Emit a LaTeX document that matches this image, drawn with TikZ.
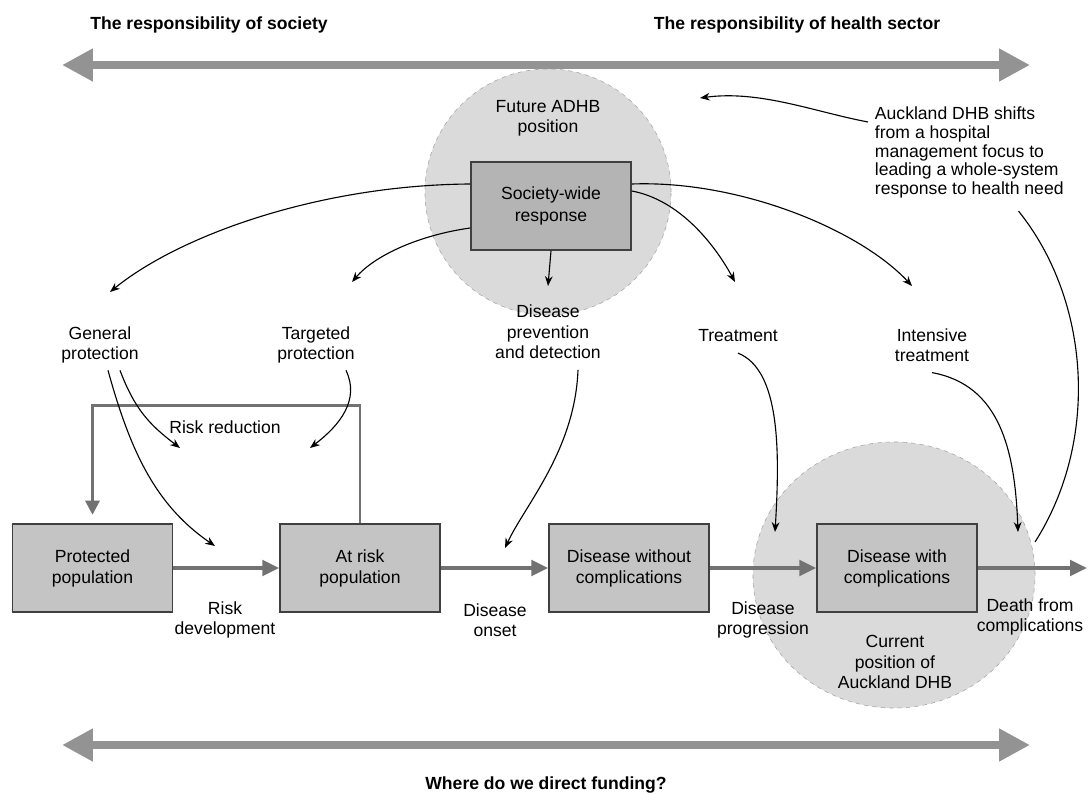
\documentclass[tikz,border=0pt]{standalone}
\usepackage{fontspec}
\setmainfont{Liberation Sans}
\usetikzlibrary{arrows.meta,shapes.geometric}

\definecolor{zonegray}{HTML}{DADADA}
\definecolor{boxgray}{HTML}{C4C4C4}
\definecolor{darkbox}{HTML}{B4B4B4}
\definecolor{flowgray}{HTML}{727272}

\tikzset{
    zone/.style={circle, fill=zonegray, draw=gray!70, dashed, inner sep=0pt},
    stagebox/.style={rectangle, fill=boxgray, draw=black!75, line width=1.1pt,
        minimum width=4cm, minimum height=2.2cm, align=center,
        font=\fontsize{12.5}{15}\selectfont},
    lbl/.style={align=center, font=\fontsize{12.5}{14.5}\selectfont},
    title/.style={font=\fontsize{12.5}{15}\selectfont\bfseries},
    bigarrow/.style={draw=gray!85, line width=5.5pt,
        {Triangle[length=22pt,width=22pt]}-{Triangle[length=22pt,width=22pt]}},
    flow/.style={draw=flowgray, line width=2.5pt, -{Triangle[length=12pt,width=11pt]}},
    link/.style={draw=black, line width=0.8pt, -{Stealth[length=7pt,width=5.5pt]}},
    plainlink/.style={draw=black, line width=0.8pt}
}

\begin{document}
\begin{tikzpicture}[x=0.025cm, y=-0.025cm]
    \useasboundingbox (0,0) rectangle (1092,794);

    % focus zones
    \node (future) [zone, minimum size=6.15cm] at (548,192) {};
    \node (current) [zone, ellipse, minimum width=7.05cm, minimum height=6.65cm] at (894,575) {};

    % funding axis
    \node (society) [title] at (209,25) {The responsibility of society};
    \node (health) [title] at (797,25) {The responsibility of health sector};
    \coordinate (tl) at (62,65);
    \coordinate (tr) at (1030,65);
    \coordinate (bl) at (62,745);
    \coordinate (br) at (1030,745);
    \draw[bigarrow] (tl) -- (tr);
    \draw[bigarrow] (bl) -- (br);
    \node (funding) [title] at (546,785) {Where do we direct funding?};

    % response
    \node (futurelbl) [lbl] at (548,118) {Future ADHB\\position};
    \node (response) [stagebox, fill=darkbox] at (551,206) {Society-wide\\response};
    \node (shift) [lbl, align=left, anchor=north west, font=\fontsize{12.5}{13.3}\selectfont]
        at (870,102) {Auckland DHB shifts\\from a hospital\\management focus to\\leading a whole-system\\response to health need};

    % interventions
    \node (general) [lbl] at (100,345) {General\\protection};
    \node (targeted) [lbl] at (316,345) {Targeted\\protection};
    \node (prevention) [lbl] at (548,332) {Disease\\prevention\\and detection};
    \node (treatment) [lbl] at (738,336) {Treatment};
    \node (intensive) [lbl] at (932,345) {Intensive\\treatment};

    % disease stages
    \node (protected) [stagebox] at (92.5,568) {Protected\\population};
    \node (atrisk) [stagebox] at (360,568) {At risk\\population};
    \node (without) [stagebox] at (629,568) {Disease without\\complications};
    \node (with) [stagebox] at (897,568) {Disease with\\complications};
    \coordinate (death) at (1087,568);

    \draw[flow] (protected) -- (atrisk);
    \draw[flow] (atrisk) -- (without);
    \draw[flow] (without) -- (with);
    \draw[flow] (with) -- (death);
    \draw[flow, line width=2pt, -{Triangle[length=10pt,width=10pt]}, shorten >=6pt]
        (atrisk.north) -- ++(0,-118) -| (protected.north);

    \node (reduction) [lbl] at (225,427) {Risk reduction};
    \node (development) [lbl] at (225,620) {Risk\\development};
    \node (onset) [lbl] at (495,620) {Disease\\onset};
    \node (progression) [lbl] at (763,620) {Disease\\progression};
    \node (deathlbl) [lbl] at (1030,617) {Death from\\complications};
    \node (currentlbl) [lbl] at (895,662) {Current\\position of\\Auckland DHB};

    % arrow tips
    \coordinate (genTip) at (110,292);
    \coordinate (tgtTip) at (352,282);
    \coordinate (prevTip) at (548,286);
    \coordinate (trtTip) at (735,282);
    \coordinate (intTip) at (912,286);
    \coordinate (gpA) at (180,448);
    \coordinate (gpB) at (215,546);
    \coordinate (tpA) at (310,448);
    \coordinate (pdA) at (505,548);
    \coordinate (trA) at (775,532);
    \coordinate (itA) at (1018,532);
    \coordinate (shiftTip) at (700,98);
    \coordinate (shiftEnd) at (1035,542);

    \draw[link] (response.west) ++(0,-22) .. controls (320,185) and (180,235) .. (genTip);
    \draw[link] (response.west) ++(0,22) .. controls (420,235) and (375,255) .. (tgtTip);
    \draw[link] (response.south) -- (prevTip);
    \draw[link] (response.east) ++(0,-15) .. controls (680,200) and (715,245) .. (trtTip);
    \draw[link] (response.east) ++(0,-22) .. controls (740,180) and (860,230) .. (intTip);

    \draw[link] (general.south) ++(20,2) .. controls (135,410) and (150,425) .. (gpA);
    \draw[link] (general.south) ++(8,2) .. controls (130,450) and (155,505) .. (gpB);
    \draw[link] (targeted.south) ++(30,2) .. controls (360,400) and (340,425) .. (tpA);
    \draw[link] (prevention.south) ++(30,6) .. controls (575,450) and (525,505) .. (pdA);
    \draw[link] (treatment.south) ++(0,6) .. controls (780,370) and (780,450) .. (trA);
    \draw[link] (intensive.south) ++(0,6) .. controls (1000,385) and (1015,450) .. (itA);

    \draw[link] (shift.north west) ++(-2,20) .. controls (815,112) and (760,90) .. (shiftTip);
    \draw[plainlink] (shift.south east) ++(-50,8) .. controls (1090,300) and (1100,440) .. (shiftEnd);

\end{tikzpicture}
\end{document}
